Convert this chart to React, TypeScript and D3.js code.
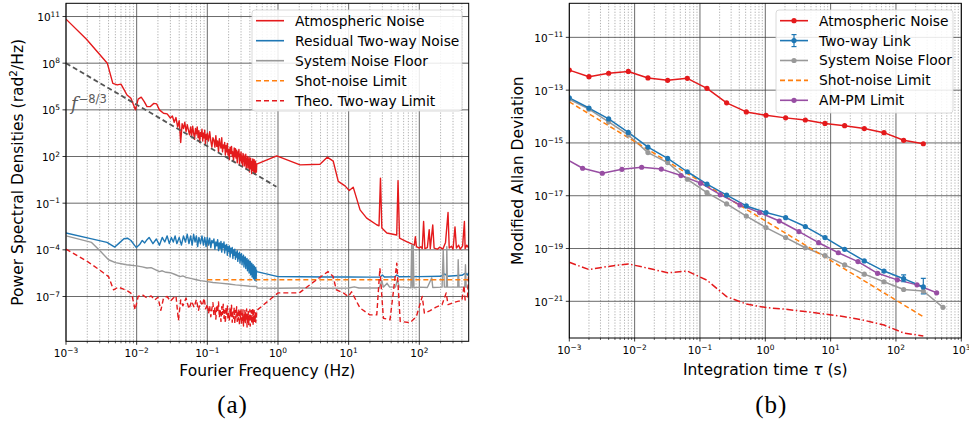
import React from 'react';
import * as d3 from 'd3';

type Pt = [number, number];

// ================= Panel (a): Power spectral densities =================
const atmosphericNoisePSD: Pt[] = [
  [1.0e-3, 6.8e10], [1.95e-3, 3.5e9], [3.84e-3, 1.0e8], [4.6e-3, 5.0e6], [5.3e-3, 4.0e6],
  [6.0e-3, 4.5e6], [6.6e-3, 2.1e6], [7.3e-3, 9.0e5], [8.3e-3, 5.6e5], [9.6e-3, 1.0e5],
  [1.05e-2, 4.9e5], [1.16e-2, 6.5e5], [1.28e-2, 3.4e5], [1.4e-2, 1.6e5], [1.55e-2, 1.6e5],
  [1.75e-2, 2.6e5], [1.92e-2, 2.4e5], [2.1e-2, 1.0e5], [2.4e-2, 6.0e4], [2.7e-2, 5.5e4],
  [3.0e-2, 3.0e4], [0.032, 4.0e4], [0.034, 1.6e4], [0.036, 3.2e4], [0.038, 7.9e3],
  [0.040, 2.0e4], [0.042, 7.9e2], [0.044, 1.3e4], [0.046, 6.3e3], [0.048, 1.6e4],
  [0.050, 4.0e3], [0.052, 1.1e4], [0.054, 5.0e3], [0.056, 2.5e3], [0.058, 7.9e3],
  [0.060, 2.0e3], [0.062, 8.9e3], [0.064, 3.2e3], [0.066, 1.26e3], [0.068, 6.3e3],
  [0.070, 2.8e3], [0.072, 7.9e3], [0.074, 1.6e3], [0.076, 4.5e3], [0.078, 7.9e2],
  [0.080, 3.5e3], [0.082, 2.0e3], [0.084, 5.6e3], [0.086, 1.0e3], [0.088, 3.2e3],
  [0.090, 1.6e3], [0.092, 5.0e3], [0.094, 6.3e2], [0.096, 2.5e3], [0.098, 1.26e3],
  [0.100, 3.2e3], [0.104, 1.0e3], [0.108, 4.0e3], [0.112, 1.0e3], [0.116, 4.0e2],
  [0.120, 1.6e3], [0.124, 1.1e3], [0.128, 4.0e2], [0.132, 2.2e3], [0.136, 4.5e2],
  [0.140, 1.0e3], [0.144, 2.0e2], [0.148, 1.4e3], [0.152, 5.6e2], [0.156, 3.5e2],
  [0.160, 1.6e3], [0.164, 2.0e2], [0.168, 5.6e2], [0.172, 3.5e2], [0.176, 7.9e2],
  [0.180, 1.26e2], [0.184, 5.0e2], [0.188, 2.0e2], [0.192, 7.0e2], [0.196, 1.26e2],
  [0.200, 2.8e2], [0.205, 63], [0.210, 4.0e2], [0.215, 1.6e2], [0.220, 4.5e2],
  [0.225, 1.0e2], [0.230, 2.0e2], [0.235, 50], [0.240, 3.5e2], [0.245, 1.0e2],
  [0.250, 3.2e2], [0.255, 79], [0.260, 2.5e2], [0.265, 40], [0.270, 2.0e2],
  [0.275, 1.0e2], [0.280, 2.8e2], [0.285, 32], [0.290, 1.4e2], [0.295, 56],
  [0.300, 2.0e2], [0.305, 40], [0.310, 1.0e2], [0.315, 22], [0.320, 1.6e2],
  [0.325, 50], [0.330, 1.26e2], [0.335, 25], [0.340, 89], [0.345, 35],
  [0.350, 1.4e2], [0.355, 16], [0.360, 71], [0.365, 32], [0.370, 1.0e2],
  [0.375, 18], [0.380, 63], [0.385, 28], [0.390, 89], [0.395, 10],
  [0.400, 56], [0.405, 22], [0.410, 79], [0.415, 16], [0.420, 40],
  [0.425, 7.9], [0.430, 50], [0.435, 20], [0.440, 71], [0.445, 12.6],
  [0.450, 35], [0.455, 8.9], [0.460, 63], [0.465, 18], [0.470, 40],
  [0.475, 7.1], [0.480, 50], [0.485, 14], [0.490, 35], [0.495, 10], [0.500, 32],
  [0.96, 110], [2.05, 29], [3.93, 32], [4.98, 91], [6.05, 50], [7.13, 2.5],
  [8.87, 1.3], [10.2, 0.65], [11.6, 1.07], [14.5, 0.037], [18, 0.011], [24.9, 4.1e-3],
  [26.9, 3.5e-3], [28.2, 4.1], [29.5, 2.5e-3], [34.7, 1.2e-3], [47.9, 9.0e-4], [50, 2.8],
  [52.5, 5.6e-4], [66, 3.4e-4], [85, 2.0e-4], [88, 7.0e-4], [91, 1.6e-4], [100, 1.3e-4],
  [105, 1.6e-4], [110, 1.2e-4], [115, 6.6e-3], [120, 1.2e-4], [130, 1.4e-4], [138, 2.0e-3],
  [143, 1.2e-4], [155, 4.0e-3], [162, 1.3e-4], [180, 1.1e-4], [195, 1.5e-4], [215, 1.1e-4],
  [235, 3.0e-4], [255, 2.5e-2], [265, 1.3e-4], [285, 1.7e-4], [300, 1.1e-4], [320, 3.0e-3],
  [335, 1.3e-4], [360, 2.0e-4], [380, 1.1e-4], [410, 1.8e-4], [435, 6.6e-3], [445, 1.2e-4],
  [470, 2.0e-4], [500, 1.3e-4],
];

const residualTwoWayPSD: Pt[] = [
  [0.001, 1.2e-3], [0.0024, 4.9e-4], [0.0038, 3.0e-4], [0.0049, 1.5e-4], [0.0057, 2.8e-4],
  [0.0066, 5.2e-4], [0.0074, 5.6e-4], [0.0083, 4.0e-4], [0.0093, 2.0e-4], [0.0099, 1.4e-4],
  [0.011, 2.2e-4], [0.012, 4.0e-4], [0.013, 2.8e-4], [0.014, 4.5e-4],
  [0.015, 6.3e-4], [0.017, 2.5e-4], [0.019, 5.0e-4], [0.021, 2.0e-4], [0.023, 6.3e-4],
  [0.025, 3.2e-4], [0.027, 7.9e-4], [0.029, 2.5e-4], [0.031, 6.3e-4], [0.033, 3.2e-4],
  [0.035, 7.9e-4], [0.037, 2.5e-4], [0.040, 6.3e-4], [0.043, 2.0e-4], [0.046, 7.9e-4],
  [0.049, 3.2e-4], [0.052, 1.0e-3], [0.055, 2.5e-4], [0.058, 7.9e-4], [0.061, 2.0e-4],
  [0.064, 1.0e-3], [0.067, 3.2e-4], [0.070, 7.9e-4], [0.073, 1.6e-4], [0.076, 6.3e-4],
  [0.080, 2.5e-4], [0.084, 7.9e-4], [0.088, 2.0e-4], [0.092, 6.3e-4], [0.096, 1.6e-4],
  [0.100, 6.3e-4], [0.104, 2.0e-4], [0.108, 5.6e-4], [0.112, 1.4e-4], [0.116, 4.0e-4],
  [0.120, 2.8e-4], [0.124, 5.0e-4], [0.128, 1.1e-4], [0.132, 3.2e-4], [0.136, 1.8e-4],
  [0.140, 4.5e-4], [0.144, 8.9e-5], [0.148, 2.8e-4], [0.152, 1.26e-4], [0.156, 3.5e-4],
  [0.160, 7.1e-5], [0.164, 2.5e-4], [0.168, 1.4e-4], [0.172, 3.2e-4], [0.176, 6.3e-5],
  [0.180, 2.0e-4], [0.184, 1.0e-4], [0.188, 2.2e-4], [0.192, 4.5e-5], [0.196, 1.6e-4],
  [0.200, 7.9e-5], [0.205, 1.8e-4], [0.210, 3.5e-5], [0.215, 1.26e-4], [0.220, 6.3e-5],
  [0.225, 1.4e-4], [0.230, 2.8e-5], [0.235, 1.0e-4], [0.240, 4.5e-5], [0.245, 1.1e-4],
  [0.250, 2.5e-5], [0.255, 7.1e-5], [0.260, 3.5e-5], [0.265, 8.9e-5], [0.270, 1.8e-5],
  [0.275, 5.6e-5], [0.280, 2.8e-5], [0.285, 7.1e-5], [0.290, 1.4e-5], [0.295, 5.0e-5],
  [0.300, 2.2e-5], [0.305, 5.6e-5], [0.310, 1.1e-5], [0.315, 3.5e-5], [0.320, 1.8e-5],
  [0.325, 4.5e-5], [0.330, 7.9e-6], [0.335, 3.2e-5], [0.340, 1.26e-5], [0.345, 3.5e-5],
  [0.350, 6.3e-6], [0.355, 2.5e-5], [0.360, 1.0e-5], [0.365, 2.8e-5], [0.370, 4.5e-6],
  [0.375, 2.0e-5], [0.380, 7.9e-6], [0.385, 2.2e-5], [0.390, 3.2e-6], [0.395, 1.6e-5],
  [0.400, 5.6e-6], [0.405, 1.8e-5], [0.410, 2.5e-6], [0.415, 1.26e-5], [0.420, 4.5e-6],
  [0.425, 1.4e-5], [0.430, 1.8e-6], [0.435, 1.0e-5], [0.440, 3.5e-6], [0.445, 1.1e-5],
  [0.450, 1.4e-6], [0.455, 7.9e-6], [0.460, 2.8e-6], [0.465, 8.9e-6], [0.470, 1.1e-6],
  [0.475, 6.3e-6], [0.480, 2.0e-6], [0.485, 7.1e-6], [0.490, 1.0e-6], [0.495, 5.0e-6],
  [0.500, 4.0e-6], [1.0, 1.9e-6], [2, 1.85e-6], [5, 1.8e-6], [10, 1.8e-6], [20, 1.75e-6],
  [28, 1.8e-6], [30, 2.4e-6], [32, 1.8e-6], [45, 1.85e-6], [48, 2.4e-6], [52, 1.85e-6],
  [100, 1.9e-6], [200, 2.0e-6], [230, 2.8e-6], [250, 2.0e-6], [400, 2.3e-6], [450, 3.2e-6],
  [480, 2.4e-6], [500, 3.5e-6],
];

const systemNoiseFloorPSD: Pt[] = [
  [0.001, 7.9e-4], [0.0023, 3.0e-4], [0.003, 9.0e-5], [0.004, 2.3e-5], [0.005, 1.5e-5],
  [0.0072, 1.1e-5], [0.01, 9.3e-6], [0.012, 8.0e-6], [0.014, 6.8e-6], [0.016, 7.2e-6],
  [0.018, 5.6e-6], [0.021, 4.0e-6], [0.023, 4.5e-6], [0.026, 3.6e-6], [0.03, 3.4e-6],
  [0.035, 2.6e-6], [0.041, 1.9e-6], [0.045, 2.1e-6], [0.05, 1.7e-6], [0.06, 1.4e-6],
  [0.07, 1.2e-6], [0.08, 1.05e-6], [0.1, 9.0e-7], [0.12, 8.0e-7], [0.15, 7.2e-7],
  [0.2, 6.3e-7], [0.25, 5.6e-7], [0.3, 5.2e-7], [0.4, 4.6e-7], [0.5, 4.4e-7],
  [0.505, 3.5e-7], [1, 3.4e-7], [2, 3.5e-7], [5, 3.4e-7], [10, 3.5e-7], [12, 4.2e-7],
  [14, 3.5e-7], [27, 3.5e-7], [29.5, 1.0e-6], [31, 4.0e-7], [35, 7.0e-7], [38, 4.0e-7],
  [46, 4.0e-7], [49, 1.2e-6], [52, 4.0e-7], [60, 4.0e-7], [76, 3.6e-7], [78, 2.1e-4],
  [80, 3.6e-7], [82, 2.0e-4], [84, 3.6e-7], [100, 4.0e-7], [130, 3.8e-7], [150, 1.6e-6],
  [155, 3.8e-7], [210, 4.0e-7], [218, 1.0e-4], [226, 4.0e-7], [242, 4.0e-7], [245, 1.6e-4],
  [250, 4.0e-7], [300, 4.0e-7], [350, 4.0e-7], [355, 2.3e-5], [365, 4.0e-7], [440, 4.0e-7],
  [450, 1.1e-5], [460, 4.0e-7], [500, 4.0e-7],
];

const shotNoisePSD: Pt[] = [[0.1, 1.2e-6], [500, 1.2e-6]];

const theoTwoWayPSD: Pt[] = [
  [0.001, 1.1e-4], [0.002, 1.8e-5], [0.003, 5.0e-6], [0.004, 1.9e-6], [0.0047, 2.7e-7],
  [0.0055, 4.0e-7], [0.0065, 3.0e-7], [0.0075, 2.2e-7], [0.0085, 1.5e-7], [0.0095, 1.4e-8],
  [0.0105, 1.0e-7], [0.012, 1.3e-7], [0.014, 8.0e-8], [0.016, 1.1e-7], [0.018, 6.0e-8],
  [0.02, 9.0e-8], [0.022, 1.3e-8], [0.024, 8.0e-8], [0.027, 1.0e-7], [0.03, 5.0e-8],
  [0.033, 8.0e-8], [0.036, 1.1e-7], [0.039, 2.9e-9], [0.042, 6.0e-8], [0.045, 2.5e-8],
  [0.05, 7.9e-8], [0.055, 1.6e-8], [0.06, 5.0e-8], [0.065, 2.0e-8], [0.07, 6.3e-8],
  [0.075, 1.3e-8], [0.08, 5.0e-8], [0.085, 2.5e-8], [0.09, 7.9e-8], [0.095, 1.6e-8],
  [0.100, 3.2e-8], [0.104, 7.9e-9], [0.108, 2.5e-8], [0.112, 5.0e-9], [0.116, 1.6e-8],
  [0.120, 4.0e-8], [0.124, 6.3e-9], [0.128, 2.0e-8], [0.132, 3.5e-9], [0.136, 2.8e-8],
  [0.140, 1.0e-8], [0.144, 4.5e-8], [0.148, 4.5e-9], [0.152, 1.4e-8], [0.156, 2.5e-9],
  [0.160, 2.2e-8], [0.164, 7.1e-9], [0.168, 3.2e-8], [0.172, 4.0e-9], [0.176, 1.26e-8],
  [0.180, 2.0e-9], [0.184, 2.0e-8], [0.188, 5.6e-9], [0.192, 2.5e-8], [0.196, 3.2e-9],
  [0.200, 1.1e-8], [0.205, 2.8e-9], [0.210, 1.8e-8], [0.215, 5.0e-9], [0.220, 2.8e-8],
  [0.225, 2.2e-9], [0.230, 1.0e-8], [0.235, 4.0e-9], [0.240, 2.0e-8], [0.245, 1.8e-9],
  [0.250, 1.26e-8], [0.255, 4.5e-9], [0.260, 2.2e-8], [0.265, 2.5e-9], [0.270, 8.9e-9],
  [0.275, 3.2e-9], [0.280, 1.6e-8], [0.285, 1.4e-9], [0.290, 1.1e-8], [0.295, 3.5e-9],
  [0.300, 1.8e-8], [0.305, 1.6e-9], [0.310, 7.9e-9], [0.315, 2.8e-9], [0.320, 1.4e-8],
  [0.325, 1.26e-9], [0.330, 6.3e-9], [0.335, 2.5e-9], [0.340, 1.26e-8], [0.345, 1.8e-9],
  [0.350, 8.9e-9], [0.355, 3.2e-9], [0.360, 1.6e-8], [0.365, 1.1e-9], [0.370, 7.1e-9],
  [0.375, 2.2e-9], [0.380, 1.1e-8], [0.385, 1.6e-9], [0.390, 6.3e-9], [0.395, 2.8e-9],
  [0.400, 1.4e-8], [0.405, 1.26e-9], [0.410, 7.9e-9], [0.415, 2.5e-9], [0.420, 1.26e-8],
  [0.425, 1.8e-9], [0.430, 5.6e-9], [0.435, 3.2e-9], [0.440, 1.6e-8], [0.445, 1.4e-9],
  [0.450, 1.0e-8], [0.455, 3.5e-9], [0.460, 1.26e-8], [0.465, 2.0e-9], [0.470, 7.1e-9],
  [0.475, 2.8e-9], [0.480, 1.1e-8], [0.485, 2.2e-9], [0.490, 7.9e-9], [0.495, 4.0e-9],
  [0.500, 1.26e-8], [1.0, 1.7e-7], [2.0, 1.7e-7], [3.0, 7.0e-7], [5.1, 4.0e-6], [6.0, 2.0e-6],
  [6.7, 2.7e-7], [8.4, 1.7e-7], [9.9, 1.0e-7], [11, 2.0e-7], [14.5, 1.8e-8], [20, 6.6e-9],
  [25, 6.6e-9], [27.7, 6.6e-6], [31, 4.0e-9], [38.5, 3.2e-9], [48, 1.4e-5], [53.7, 2.5e-9],
  [74, 2.1e-9], [91, 5.2e-9], [110, 1.0e-7], [118, 8.5e-9], [140, 1.2e-8], [170, 2.0e-8],
  [210, 3.0e-8], [240, 1.7e-7], [255, 3.0e-8], [300, 4.0e-8], [360, 5.0e-8], [400, 5.5e-8],
  [430, 5.0e-7], [445, 6.0e-8], [480, 8.0e-8], [500, 3.0e-6],
];

const kolmogorovFitPSD: Pt[] = [[1e-3, 1e8], [0.95, 1.15]];

const psdYTickExps = [-7, -4, -1, 2, 5, 8, 11];
const freqXTickExps = [-3, -2, -1, 0, 1, 2];

const legendA = [
  { label: 'Atmospheric Noise', color: '#e41a1c', dash: '' },
  { label: 'Residual Two-way Noise', color: '#1f77b4', dash: '' },
  { label: 'System Noise Floor', color: '#999999', dash: '' },
  { label: 'Shot-noise Limit', color: '#ff7f0e', dash: '5,3' },
  { label: 'Theo. Two-way Limit', color: '#e41a1c', dash: '5,3' },
];

// ================= Panel (b): Modified Allan deviation =================
const tauMain = [0.001, 0.002, 0.004, 0.008, 0.016, 0.032, 0.064, 0.128, 0.256, 0.512,
  1.024, 2.048, 4.096, 8.192, 16.384, 32.768, 65.536, 131.072, 262.144];
const tauFloor = [0.001, 0.002, 0.004, 0.008, 0.016, 0.032, 0.064, 0.128, 0.256, 0.512,
  1.024, 2.048, 4.096, 8.192, 16.384, 32.768, 65.536, 131.072, 262.144, 524.288];
const tauAmPm = [0.0008, 0.0016, 0.0032, 0.0064, 0.0128, 0.0256, 0.0512, 0.1024, 0.2048,
  0.4096, 0.8192, 1.6384, 3.2768, 6.5536, 13.1072, 26.2144, 52.4288, 104.8576, 209.7152, 419.4304];

const atmosphericADEV = [5.75e-13, 3.24e-13, 4.37e-13, 5.1e-13, 2.9e-13, 2.35e-13, 2.8e-13,
  1.17e-13, 3.3e-14, 1.5e-14, 1.12e-14, 8.9e-15, 7.4e-15, 5.5e-15, 4.5e-15, 3.5e-15,
  2.45e-15, 1.26e-15, 9.3e-16];
const twoWayLinkADEV = [5.1e-14, 2.1e-14, 8.1e-15, 2.5e-15, 6.9e-16, 2.6e-16, 8.1e-17,
  2.75e-17, 1.05e-17, 4.1e-18, 2.3e-18, 1.48e-18, 6.8e-19, 2.6e-19, 9.3e-20, 3.4e-20,
  1.4e-20, 7.2e-21, 3.5e-21];
const twoWayLinkErrLow = [0, 0, 0, 0, 0, 0, 0, 0, 0, 0, 0, 0, 0, 0, 0, 0, 0, 1.7e-21, 1.6e-21];
const twoWayLinkErrHigh = [0, 0, 0, 0, 0, 0, 0, 0, 0, 0, 0, 0, 0, 0, 0, 0, 0, 2.8e-21, 3.9e-21];
const systemFloorADEV = [4.5e-14, 1.9e-14, 6.3e-15, 2.0e-15, 4.3e-16, 1.8e-16, 4.2e-17,
  1.3e-17, 4.9e-18, 1.7e-18, 6.2e-19, 2.6e-19, 1.07e-19, 5.4e-20, 2.4e-20, 1.07e-20,
  5.5e-21, 2.8e-21, 2.45e-21, 5.9e-22];
const shotNoiseTau = [0.001, 262.144];
const shotNoiseADEV = [3.6e-14, 2.6e-22];
const amPmADEV = [2.9e-16, 1.1e-16, 7.1e-17, 1.0e-16, 1.2e-16, 1.02e-16, 5.8e-17, 3.0e-17,
  1.1e-17, 4.5e-18, 2.3e-18, 1.1e-18, 4.4e-19, 1.66e-19, 6.9e-20, 3.2e-20, 1.15e-20,
  6.5e-21, 4.2e-21, 2.1e-21];
const theoLimitADEV = [3.0e-20, 1.6e-20, 2.1e-20, 2.6e-20, 1.8e-20, 1.2e-20, 1.4e-20,
  6.3e-21, 1.5e-21, 7.9e-22, 5.8e-22, 5.0e-22, 4.1e-22, 3.3e-22, 2.6e-22, 1.9e-22,
  1.26e-22, 6.3e-23, 4.9e-23];

const adevYTickExps = [-21, -19, -17, -15, -13, -11];
const tauXTickExps = [-3, -2, -1, 0, 1, 2, 3];

const legendB = [
  { label: 'Atmospheric Noise', color: '#e41a1c', dash: '', kind: 'marker' },
  { label: 'Two-way Link', color: '#1f77b4', dash: '', kind: 'err' },
  { label: 'System Noise Floor', color: '#999999', dash: '', kind: 'marker' },
  { label: 'Shot-noise Limit', color: '#ff7f0e', dash: '5,3', kind: 'line' },
  { label: 'AM-PM Limit', color: '#984ea3', dash: '', kind: 'marker' },
];

// ================= drawing =================
const FONT = 'DejaVu Sans, Verdana, sans-serif';
const TICK_FS = 10.5;
const SUP_FS = 7.4;
const LABEL_FS = 15.5;
const LEG_FS = 13.8;

type Box = { x0: number; x1: number; y0: number; y1: number };
const boxA: Box = { x0: 66, x1: 468.7, y0: 3.3, y1: 341.3 };
const boxB: Box = { x0: 569.3, x1: 961.3, y0: 3.3, y1: 338 };

const expText = (e: number) => (e < 0 ? '\u2212' + Math.abs(e) : String(e));

function zip(xs: number[], ys: number[]): Pt[] {
  return xs.map((t, i) => [t, ys[i]] as Pt);
}

function minorValues(x: any): number[] {
  const [d0, d1] = x.domain();
  const minor: number[] = [];
  for (let d = Math.floor(Math.log10(d0)); d <= Math.ceil(Math.log10(d1)); d++) {
    for (let k = 2; k <= 9; k++) {
      const v = k * Math.pow(10, d);
      if (v > d0 && v < d1) minor.push(v);
    }
  }
  return minor;
}

function Grid({ x, y, b, xExps, yExps }: any) {
  const minor = minorValues(x);
  return (
    <g>
      {minor.map((v, i) => (
        <line key={'m' + i} x1={x(v)} x2={x(v)} y1={b.y0} y2={b.y1}
          stroke="#8c8c8c" strokeWidth={0.7} strokeDasharray="1.2,1.6" />
      ))}
      {xExps.map((e: number) => (
        <line key={'gx' + e} x1={x(Math.pow(10, e))} x2={x(Math.pow(10, e))} y1={b.y0} y2={b.y1}
          stroke="#444" strokeWidth={0.8} />
      ))}
      {yExps.map((e: number) => (
        <line key={'gy' + e} x1={b.x0} x2={b.x1} y1={y(Math.pow(10, e))} y2={y(Math.pow(10, e))}
          stroke="#444" strokeWidth={0.8} />
      ))}
    </g>
  );
}

function Frame({ x, y, b, xExps, yExps }: any) {
  const minor = minorValues(x);
  return (
    <g>
      <rect x={b.x0} y={b.y0} width={b.x1 - b.x0} height={b.y1 - b.y0} fill="none" stroke="#000" strokeWidth={1} />
      {minor.map((v, i) => (
        <line key={'mt' + i} x1={x(v)} x2={x(v)} y1={b.y1} y2={b.y1 + 2} stroke="#000" strokeWidth={0.6} />
      ))}
      {xExps.map((e: number) => {
        const px = x(Math.pow(10, e));
        return (
          <g key={'tx' + e}>
            <line x1={px} x2={px} y1={b.y1} y2={b.y1 + 3.5} stroke="#000" strokeWidth={0.8} />
            <text x={px} y={b.y1 + 16} textAnchor="middle" fontFamily={FONT} fontSize={TICK_FS} fill="#000">
              10<tspan dy={-4.5} fontSize={SUP_FS}>{expText(e)}</tspan>
            </text>
          </g>
        );
      })}
      {yExps.map((e: number) => {
        const py = y(Math.pow(10, e));
        return (
          <g key={'ty' + e}>
            <line x1={b.x0 - 3.5} x2={b.x0} y1={py} y2={py} stroke="#000" strokeWidth={0.8} />
            <text x={b.x0 - 6} y={py + 4.5} textAnchor="end" fontFamily={FONT} fontSize={TICK_FS} fill="#000">
              10<tspan dy={-4.5} fontSize={SUP_FS}>{expText(e)}</tspan>
            </text>
          </g>
        );
      })}
    </g>
  );
}

export default function App() {
  const xa = d3.scaleLog().domain([1e-3, 500]).range([boxA.x0, boxA.x1]);
  const ya = d3.scaleLog().domain([Math.pow(10, -9.88), Math.pow(10, 11.85)]).range([boxA.y1, boxA.y0]);
  const xb = d3.scaleLog().domain([1e-3, 1e3]).range([boxB.x0, boxB.x1]);
  const yb = d3.scaleLog().domain([Math.pow(10, -22.39), Math.pow(10, -9.71)]).range([boxB.y1, boxB.y0]);

  const lineA = d3.line<Pt>().x((d) => xa(d[0])).y((d) => ya(d[1]));
  const lineB = d3.line<Pt>().x((d) => xb(d[0])).y((d) => yb(d[1]));

  const atmB = zip(tauMain, atmosphericADEV);
  const twoB = zip(tauMain, twoWayLinkADEV);
  const floorB = zip(tauFloor, systemFloorADEV);
  const shotB = zip(shotNoiseTau, shotNoiseADEV);
  const amB = zip(tauAmPm, amPmADEV);
  const theoB = zip(tauMain, theoLimitADEV);

  const markers = (pts: Pt[], color: string, key: string) =>
    pts.map((d, i) => <circle key={key + i} cx={xb(d[0])} cy={yb(d[1])} r={2.6} fill={color} />);

  return (
    <svg width={969} height={429} style={{ position: 'absolute', left: 0, top: 0, background: '#fff' }}
      xmlns="http://www.w3.org/2000/svg">
      <defs>
        <clipPath id="clipA"><rect x={boxA.x0} y={boxA.y0} width={boxA.x1 - boxA.x0} height={boxA.y1 - boxA.y0} /></clipPath>
        <clipPath id="clipB"><rect x={boxB.x0} y={boxB.y0} width={boxB.x1 - boxB.x0} height={boxB.y1 - boxB.y0} /></clipPath>
      </defs>
      <rect x={0} y={0} width={969} height={429} fill="#fff" />

      {/* ---------- Panel (a) ---------- */}
      <Grid x={xa} y={ya} b={boxA} xExps={freqXTickExps} yExps={psdYTickExps} />
      <g clipPath="url(#clipA)" fill="none" strokeLinejoin="round">
        <path d={lineA(atmosphericNoisePSD) || ''} stroke="#e41a1c" strokeWidth={1.4} />
        <path d={lineA(kolmogorovFitPSD) || ''} stroke="#555" strokeWidth={1.8} strokeDasharray="5,3" />
        <path d={lineA(residualTwoWayPSD) || ''} stroke="#1f77b4" strokeWidth={1.4} />
        <path d={lineA(systemNoiseFloorPSD) || ''} stroke="#999999" strokeWidth={1.4} />
        <path d={lineA(shotNoisePSD) || ''} stroke="#ff7f0e" strokeWidth={1.5} strokeDasharray="5,3" />
        <path d={lineA(theoTwoWayPSD) || ''} stroke="#e41a1c" strokeWidth={1.4} strokeDasharray="5,3" />
      </g>
      <text x={71} y={110} fontFamily="DejaVu Serif, serif" fontSize={18} fontStyle="italic" fill="#5a5a5a">
        f<tspan dx={1} dy={-7} fontFamily={FONT} fontSize={11.5} fontStyle="normal">{'\u22128/3'}</tspan>
      </text>
      <Frame x={xa} y={ya} b={boxA} xExps={freqXTickExps} yExps={psdYTickExps} />
      <g>
        <rect x={252} y={10} width={210} height={101} rx={3} fill="#fff" fillOpacity={0.85} stroke="#d0d0d0" strokeWidth={0.8} />
        {legendA.map((it, i) => {
          const cy = 20.7 + 20 * i;
          return (
            <g key={'la' + i}>
              <line x1={256} x2={284} y1={cy} y2={cy} stroke={it.color} strokeWidth={1.6} strokeDasharray={it.dash || undefined} />
              <text x={295} y={cy + 4.9} fontFamily={FONT} fontSize={LEG_FS} fill="#000">{it.label}</text>
            </g>
          );
        })}
      </g>
      <text x={(boxA.x0 + boxA.x1) / 2} y={376} textAnchor="middle" fontFamily={FONT} fontSize={LABEL_FS}>
        Fourier Frequency (Hz)
      </text>
      <text transform={`translate(23,${(boxA.y0 + boxA.y1) / 2}) rotate(-90)`} textAnchor="middle"
        fontFamily={FONT} fontSize={LABEL_FS}>
        Power Spectral Densities (rad<tspan dy={-6} fontSize={10.5}>2</tspan><tspan dy={6}>/Hz)</tspan>
      </text>
      <text x={232.5} y={413} textAnchor="middle" fontFamily="Liberation Serif, Times New Roman, serif" fontSize={25} letterSpacing={1}>(a)</text>

      {/* ---------- Panel (b) ---------- */}
      <Grid x={xb} y={yb} b={boxB} xExps={tauXTickExps} yExps={adevYTickExps} />
      <g clipPath="url(#clipB)" fill="none" strokeLinejoin="round">
        <path d={lineB(theoB) || ''} stroke="#e41a1c" strokeWidth={1.5} strokeDasharray="7,2.5,1.5,2.5" />
        <path d={lineB(atmB) || ''} stroke="#e41a1c" strokeWidth={1.5} />
        <path d={lineB(floorB) || ''} stroke="#999999" strokeWidth={1.5} />
        <path d={lineB(shotB) || ''} stroke="#ff7f0e" strokeWidth={1.5} strokeDasharray="5,3" />
        <path d={lineB(amB) || ''} stroke="#984ea3" strokeWidth={1.5} />
        <path d={lineB(twoB) || ''} stroke="#1f77b4" strokeWidth={1.5} />
        {twoB.map((d, i) => {
          if (!twoWayLinkErrLow[i]) return null;
          const px = xb(d[0]);
          const yTop = yb(d[1] + twoWayLinkErrHigh[i]);
          const yBot = yb(d[1] - twoWayLinkErrLow[i]);
          return (
            <g key={'eb' + i} stroke="#1f77b4" strokeWidth={1.2}>
              <line x1={px} x2={px} y1={yTop} y2={yBot} />
              <line x1={px - 2.5} x2={px + 2.5} y1={yTop} y2={yTop} />
              <line x1={px - 2.5} x2={px + 2.5} y1={yBot} y2={yBot} />
            </g>
          );
        })}
        {markers(atmB, '#e41a1c', 'ma')}
        {markers(floorB, '#999999', 'mf')}
        {markers(amB, '#984ea3', 'mp')}
        {markers(twoB, '#1f77b4', 'mt')}
      </g>
      <Frame x={xb} y={yb} b={boxB} xExps={tauXTickExps} yExps={adevYTickExps} />
      <g>
        <rect x={776} y={10} width={177} height={103} rx={3} fill="#fff" fillOpacity={0.85} stroke="#d0d0d0" strokeWidth={0.8} />
        {legendB.map((it, i) => {
          const cy = 20.7 + 19.9 * i;
          return (
            <g key={'lb' + i}>
              <line x1={780} x2={808} y1={cy} y2={cy} stroke={it.color} strokeWidth={1.6} strokeDasharray={it.dash || undefined} />
              {it.kind !== 'line' && <circle cx={794} cy={cy} r={2.6} fill={it.color} />}
              {it.kind === 'err' && (
                <g stroke={it.color} strokeWidth={1.2}>
                  <line x1={794} x2={794} y1={cy - 6} y2={cy + 6} />
                  <line x1={791.5} x2={796.5} y1={cy - 6} y2={cy - 6} />
                  <line x1={791.5} x2={796.5} y1={cy + 6} y2={cy + 6} />
                </g>
              )}
              <text x={819} y={cy + 4.9} fontFamily={FONT} fontSize={LEG_FS} fill="#000">{it.label}</text>
            </g>
          );
        })}
      </g>
      <text x={(boxB.x0 + boxB.x1) / 2} y={375} textAnchor="middle" fontFamily={FONT} fontSize={LABEL_FS}>
        Integration time <tspan fontStyle="italic">{'\u03c4'}</tspan> (s)
      </text>
      <text transform={`translate(523,${(boxB.y0 + boxB.y1) / 2}) rotate(-90)`} textAnchor="middle"
        fontFamily={FONT} fontSize={LABEL_FS}>
        Modified Allan Deviation
      </text>
      <text x={771.3} y={413} textAnchor="middle" fontFamily="Liberation Serif, Times New Roman, serif" fontSize={25} letterSpacing={1}>(b)</text>
    </svg>
  );
}
